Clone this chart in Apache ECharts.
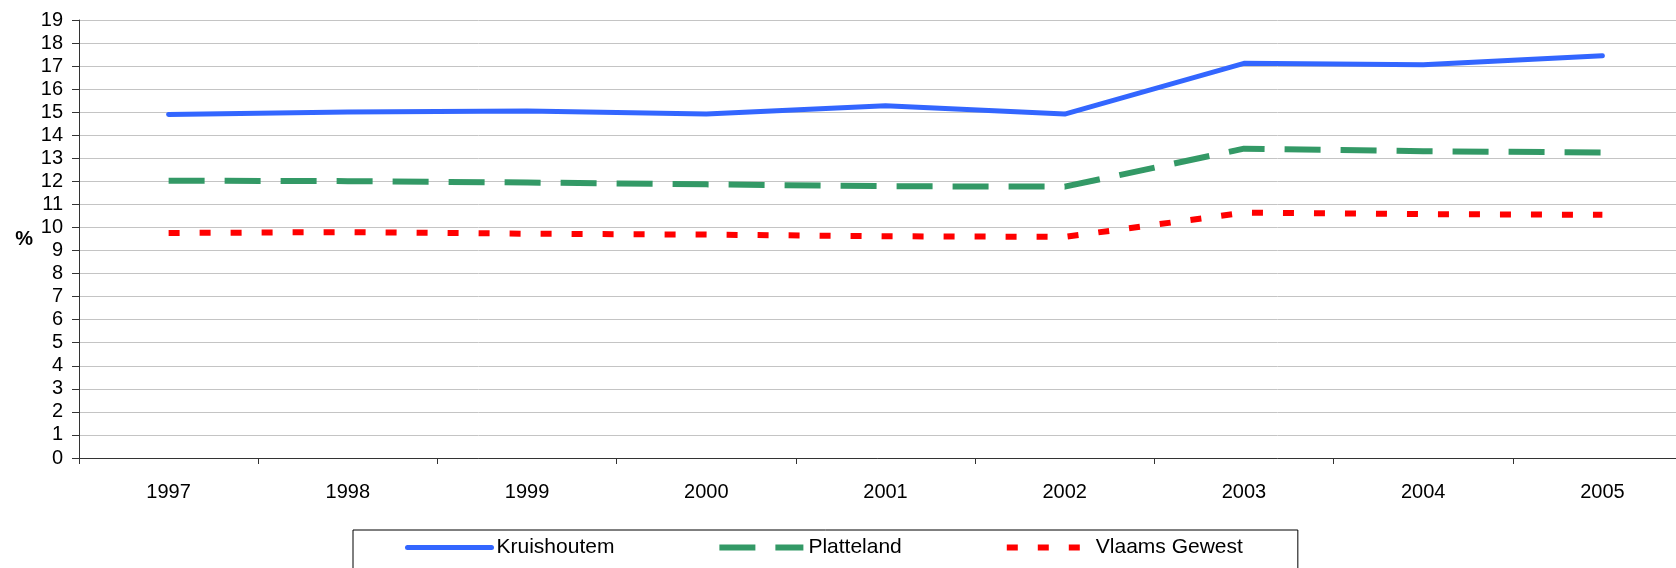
<!DOCTYPE html>
<html>
<head>
<meta charset="utf-8">
<script src="https://cdn.jsdelivr.net/npm/echarts@6/dist/echarts.min.js"></script>
<style>
  html, body { margin: 0; padding: 0; background: #fff; }
  #main { width: 1676px; height: 568px; }
</style>
</head>
<body>
<div id="main"></div>
<script>
// data
const years = ['1997', '1998', '1999', '2000', '2001', '2002', '2003', '2004', '2005']
const kruishoutem = [14.90, 15.01, 15.05, 14.92, 15.28, 14.92, 17.12, 17.06, 17.45]
const platteland = [12.03, 12.01, 11.95, 11.87, 11.79, 11.77, 13.42, 13.31, 13.25]
const vlaamsGewest = [9.76, 9.80, 9.73, 9.69, 9.62, 9.59, 10.64, 10.58, 10.55]

const font = 'Liberation Sans, Arial, sans-serif'

const myChart = echarts.init(document.getElementById('main'))

const option = {
  backgroundColor: '#fff',
  animation: false,
  grid: {
    left: 79,
    width: 1613,
    top: 20,
    height: 438,
    outerBoundsMode: 'none'
  },
  legend: {
    left: 353,
    top: 530,
    padding: [7, 55, 40, 52],
    itemGap: 102,
    itemWidth: 84,
    itemHeight: 6,
    borderColor: '#000',
    borderWidth: 1,
    itemStyle: { opacity: 0 },
    lineStyle: { width: 'inherit' },
    textStyle: { fontFamily: font, fontSize: 21, color: '#000' },
    data: ['Kruishoutem', 'Platteland', 'Vlaams Gewest']
  },
  xAxis: {
    type: 'category',
    data: years,
    boundaryGap: true,
    axisLine: { lineStyle: { color: '#333', width: 1 } },
    axisTick: { show: true, length: 6, lineStyle: { color: '#333' } },
    axisLabel: { fontFamily: font, fontSize: 20, color: '#000', margin: 24 },
    splitLine: { show: false }
  },
  yAxis: {
    type: 'value',
    min: 0,
    max: 19,
    interval: 1,
    name: '%',
    nameLocation: 'middle',
    nameRotate: 0,
    nameGap: 46,
    nameTextStyle: { fontFamily: font, fontSize: 20, fontWeight: 'bold', color: '#000' },
    axisLine: { show: true, lineStyle: { color: '#333', width: 1 } },
    axisTick: { show: true, length: 7, lineStyle: { color: '#333' } },
    axisLabel: { fontFamily: font, fontSize: 20, color: '#000', margin: 16 },
    splitLine: { lineStyle: { color: '#c4c4c4', width: 1 } }
  },
  series: [
    {
      name: 'Kruishoutem',
      type: 'line',
      data: kruishoutem,
      symbol: 'none',
      color: '#3366ff',
      lineStyle: { color: '#3366ff', width: 5, cap: 'round' }
    },
    {
      name: 'Platteland',
      type: 'line',
      data: platteland,
      symbol: 'none',
      color: '#339966',
      lineStyle: { color: '#339966', width: 6, type: [36, 20] }
    },
    {
      name: 'Vlaams Gewest',
      type: 'line',
      data: vlaamsGewest,
      symbol: 'none',
      color: '#ff0000',
      lineStyle: { color: '#ff0000', width: 6, type: [11, 20] }
    }
  ]
}

myChart.setOption(option)
</script>
</body>
</html>
